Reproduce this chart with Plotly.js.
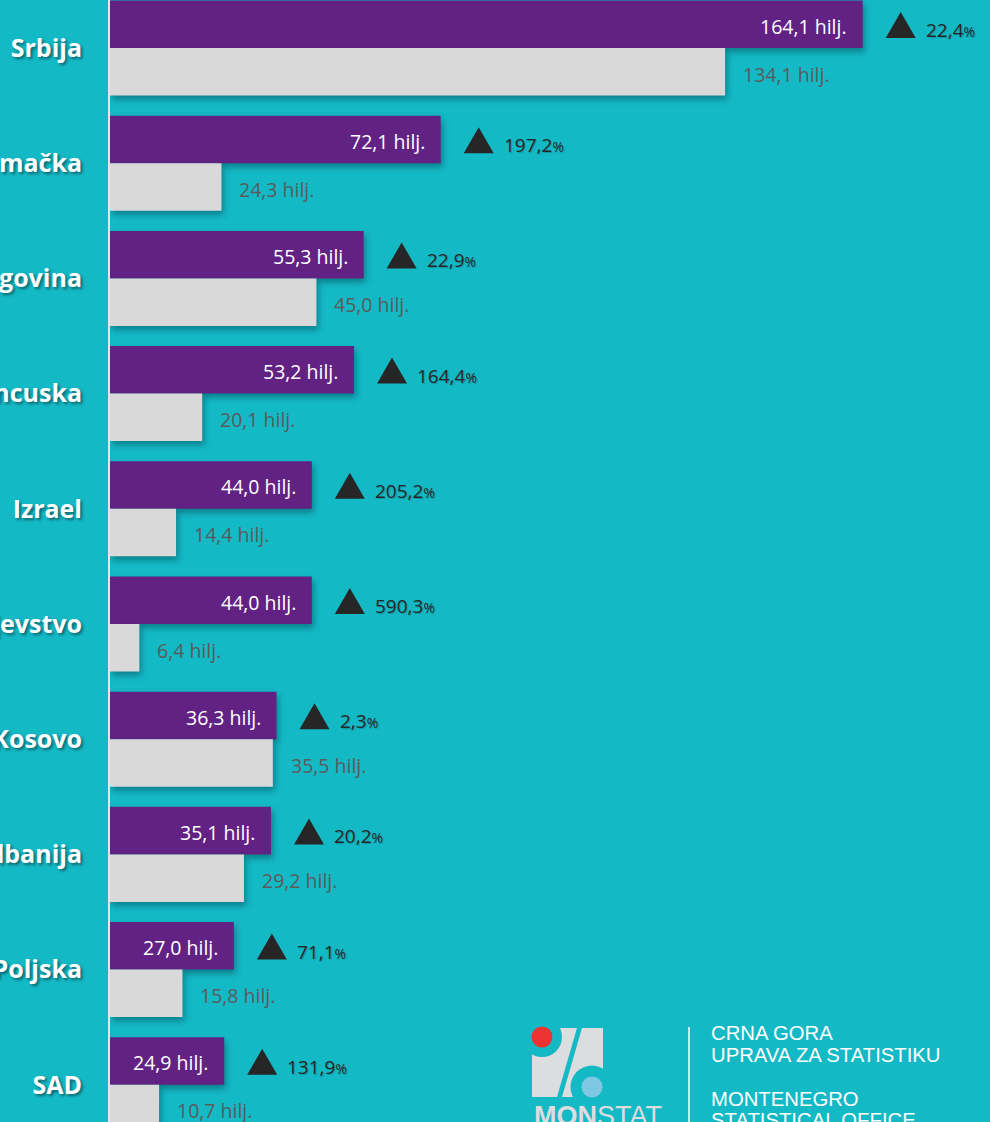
<!DOCTYPE html>
<html><head><meta charset="utf-8">
<script src="https://cdn.plot.ly/plotly-3.0.1.min.js"></script>
<style>html,body{margin:0;padding:0;background:#14B9C6;} #chart{width:990px;height:1122px;}</style>
</head><body><div id="chart"></div>
<script>
const countries = ["Srbija","Njemačka","Bosna i Hercegovina","Francuska","Izrael","Ujedinjeno Kraljevstvo","Kosovo","Albanija","Poljska","SAD"];
const current = [164.1,72.1,55.3,53.2,44.0,44.0,36.3,35.1,27.0,24.9];
const previous = [134.1,24.3,45.0,20.1,14.4,6.4,35.5,29.2,15.8,10.7];
const changePct = ["22,4","197,2","22,9","164,4","205,2","590,3","2,3","20,2","71,1","131,9"];
const unit = " hilj.";

const TEAL = "#14B9C6", PURPLE = "#622283", GRAY = "#D9D9D9";
const W = 990, H = 1122, ML = 110;
const fmt = v => v.toFixed(1).replace(".", ",");

const traces = [
  {type:"bar", orientation:"h", y:countries, x:current, marker:{color:PURPLE}, hoverinfo:"skip"},
  {type:"bar", orientation:"h", y:countries, x:previous, marker:{color:GRAY}, hoverinfo:"skip"}
];

const annotations = [];
const shapes = [];
countries.forEach((c, i) => {
  annotations.push({x:current[i], y:c, xref:"x", yref:"y", xanchor:"right", yanchor:"middle",
    xshift:-14, yshift:22, showarrow:false, text:fmt(current[i]) + unit,
    font:{family:"Open Sans", size:19.5, color:"#FFFFFF"}});
  annotations.push({x:previous[i], y:c, xref:"x", yref:"y", xanchor:"left", yanchor:"middle",
    xshift:16, yshift:-26, showarrow:false, text:fmt(previous[i]) + unit,
    font:{family:"Open Sans", size:19.5, color:"#5B5B5B"}});
  annotations.push({x:current[i], y:c, xref:"x", yref:"y", xanchor:"left", yanchor:"middle",
    xshift:61, yshift:18, showarrow:false,
    text:changePct[i] + '<span style="font-size:14px">%</span>',
    font:{family:"Open Sans", size:19, color:"#262626", shadow:"1px 1px 1px rgba(0,0,0,0.2)"}});
  shapes.push({type:"path", xref:"x", yref:"y", xsizemode:"pixel", ysizemode:"pixel",
    xanchor:current[i], yanchor:c, path:"M23,10 L53,10 L38,36 Z",
    fillcolor:"#262626", line:{width:0}, layer:"above"});
});

// logo (decoration), pixel -> paper conversion
const px = x => (x - ML) / (W - ML);
const py = y => 1 - y / H;
const P = pts => "M" + pts.map(p => px(p[0]).toFixed(5) + "," + py(p[1]).toFixed(5)).join(" L") + " Z";
const circ = (cx, cy, r, col) => ({type:"circle", xref:"paper", yref:"paper",
  x0:px(cx - r), x1:px(cx + r), y0:py(cy + r), y1:py(cy - r), fillcolor:col, line:{width:0}, layer:"above"});
const LG = "#DCDDDE";
shapes.push({type:"path", xref:"paper", yref:"paper", path:P([[532,1028],[577,1028],[557,1097],[532,1097]]), fillcolor:LG, line:{width:0}, layer:"above"});
shapes.push({type:"path", xref:"paper", yref:"paper", path:P([[582,1028],[603,1028],[603,1097],[562,1097]]), fillcolor:LG, line:{width:0}, layer:"above"});
shapes.push(circ(542,1037,20,TEAL));
shapes.push(circ(592,1087,21.5,TEAL));
shapes.push(circ(542,1037,10.5,"#EE3333"));
shapes.push(circ(592,1087,10.5,"#7EC8E3"));
shapes.push({type:"line", xref:"paper", yref:"paper", x0:px(689), x1:px(689), y0:py(1027), y1:py(1130), line:{color:"#FFFFFF", width:1.5}, layer:"above"});

const logoFont = {family:"Liberation Sans", size:20.3, color:"#FFFFFF"};
[["CRNA GORA",1020],["UPRAVA ZA STATISTIKU",1042],["MONTENEGRO",1086],["STATISTICAL OFFICE",1107]].forEach(([t,y]) => {
  annotations.push({xref:"paper", yref:"paper", x:px(709), y:py(y), xanchor:"left", yanchor:"top",
    showarrow:false, text:t, font:logoFont});
});
annotations.push({xref:"paper", yref:"paper", x:px(532), y:py(1099), xanchor:"left", yanchor:"top",
  showarrow:false, text:"<b>MON</b>STAT", font:{family:"Liberation Sans", size:27, color:LG}});

const layout = {
  width:W, height:H, margin:{l:ML, r:0, t:0, b:0, pad:0},
  paper_bgcolor:TEAL, plot_bgcolor:TEAL,
  barmode:"group", bargap:0.175, bargroupgap:0, showlegend:false,
  xaxis:{range:[0, 191.85], visible:false, fixedrange:true},
  yaxis:{type:"category", categoryorder:"array", categoryarray:countries,
    range:[9.323, -0.4167], autorange:false, showline:true, linecolor:"#E2E6E7", linewidth:2,
    showgrid:false, zeroline:false, ticks:"", ticklabelstandoff:21, automargin:false, fixedrange:true,
    tickfont:{family:"Open Sans", size:25, color:"#FFFFFF", weight:"bold", shadow:"2px 2px 3px rgba(0,0,0,0.45)"}},
  annotations:annotations, shapes:shapes
};

Plotly.newPlot("chart", traces, layout, {staticPlot:true, displayModeBar:false}).then(() => {
  document.querySelectorAll("#chart .barlayer .point path").forEach(p => {
    p.style.filter = "drop-shadow(2px 4px 3px rgba(0,40,50,0.4))";
  });
});
</script>
</body></html>
